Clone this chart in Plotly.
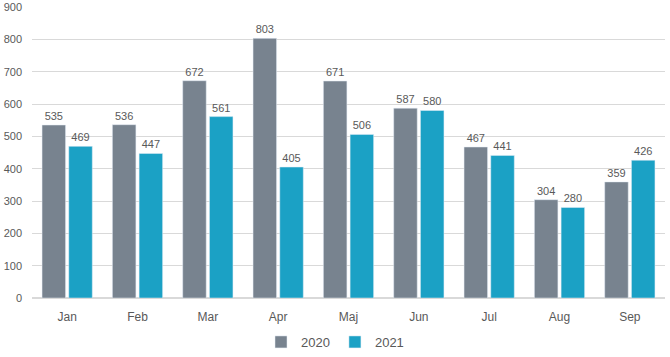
import plotly.graph_objects as go

months = ["Jan", "Feb", "Mar", "Apr", "Maj", "Jun", "Jul", "Aug", "Sep"]
v2020 = [535, 536, 672, 803, 671, 587, 467, 304, 359]
v2021 = [469, 447, 561, 405, 506, 580, 441, 280, 426]
ytick_vals = [0, 100, 200, 300, 400, 500, 600, 700, 800, 900]

fig = go.Figure()
fig.add_trace(go.Bar(name="2020", x=months, y=v2020, marker_color="#78838f",
                     text=v2020, textposition="outside", cliponaxis=False,
                     textfont=dict(color="#595959", size=11)))
fig.add_trace(go.Bar(name="2021", x=months, y=v2021, marker_color="#1ba1c5",
                     text=v2021, textposition="outside", cliponaxis=False,
                     textfont=dict(color="#595959", size=11)))

fig.update_layout(
    width=670, height=357,
    margin=dict(l=32, r=5, t=7, b=59),
    paper_bgcolor="white", plot_bgcolor="white",
    barmode="group", bargap=0.24, bargroupgap=0.12,
    font=dict(family="Liberation Sans, sans-serif", color="#595959", size=12),
    showlegend=True,
    legend=dict(orientation="h", x=0.5, xanchor="center", xref="container",
                y=0.0, yanchor="bottom", yref="container",
                font=dict(size=13), itemwidth=30, traceorder="normal"),
    uniformtext=dict(minsize=8),
)
fig.update_yaxes(range=[0, 900], tickvals=ytick_vals, gridcolor="#d9d9d9",
                 showline=False, zeroline=True, zerolinecolor="#d9d9d9",
                 tickfont=dict(size=11), ticklabelstandoff=9, automargin=False)
fig.update_xaxes(showline=True, linecolor="#d9d9d9", tickfont=dict(size=12),
                 ticklabelstandoff=8, automargin=False)

fig.write_html("out.html", config={"displayModeBar": False},
               post_script="document.body.style.margin='0';document.body.style.overflow='hidden';")
